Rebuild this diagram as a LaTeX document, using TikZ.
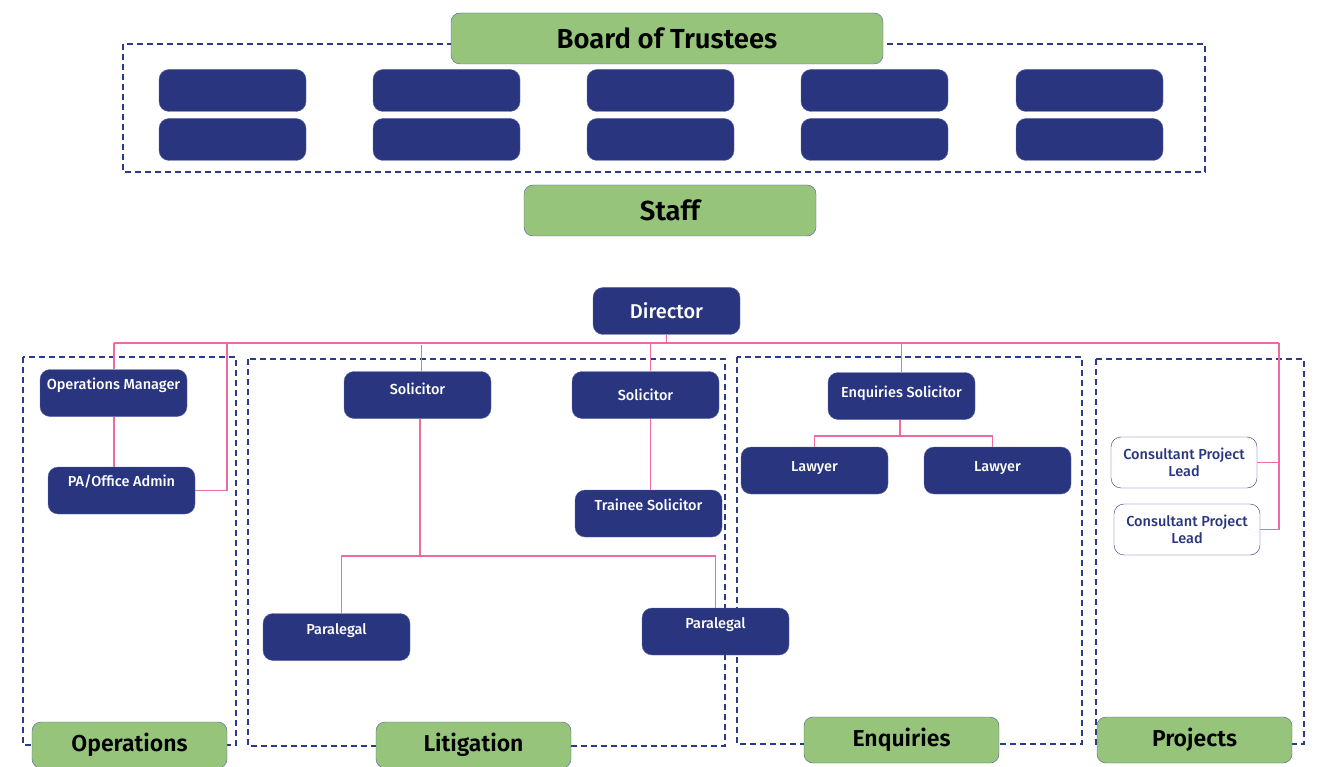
\documentclass[tikz,border=0pt]{standalone}
\usepackage{fontspec}
\setmainfont{Fira Sans Medium}[BoldFont=Fira Sans SemiBold]
\usetikzlibrary{positioning}

\definecolor{navy}{HTML}{29367F}
\definecolor{navyedge}{HTML}{5A66A0}
\definecolor{leaf}{HTML}{95C47A}
\definecolor{rose}{HTML}{EE6AA2}
\definecolor{dashblue}{HTML}{2B3A8A}

\tikzset{
  staffbox/.style={draw=navyedge,fill=navy,rounded corners=10pt,text=white,
    minimum width=147pt,minimum height=47pt,inner sep=2pt,align=center,
    font=\fontsize{14.5}{16}\selectfont},
  lift/.style={text height=10pt,text depth=#1},
  leadbox/.style={draw=navy,fill=white,rounded corners=10pt,text=navy,
    minimum width=146pt,minimum height=51pt,inner sep=2pt,align=center,
    font=\fontsize{14.5}{17.5}\selectfont},
  titlebox/.style={draw=navy!80,fill=leaf,rounded corners=9pt,
    minimum width=195pt,minimum height=46pt,inner sep=2pt,
    font=\bfseries\fontsize{23}{25}\selectfont},
  unitframe/.style={draw=dashblue,line width=2.1pt,dash pattern=on 6pt off 4pt},
  orgline/.style={draw=rose,line width=1.2pt}
}

\begin{document}
\begin{tikzpicture}[x=1pt,y=-1pt]
\useasboundingbox (0,0) rectangle (1320,767);

% trustees
\draw[unitframe] (123,44) rectangle (1205,172);
\foreach \cx [count=\i] in {232.5,446.5,660.5,874.5,1089.5}{
  \node[staffbox,minimum height=42pt] (trustee-\i-a) at (\cx,90.5) {};
  \node[staffbox,minimum height=42pt] (trustee-\i-b) at (\cx,139.5) {};
}
\node[titlebox,minimum width=432pt,minimum height=51pt,font=\bfseries\fontsize{27.5}{29}\selectfont] (board) at (667,38.5) {Board of Trustees};
\node[titlebox,minimum width=292pt,minimum height=51pt,font=\bfseries\fontsize{27.5}{29}\selectfont] (staff) at (670,210.5) {Staff};

% teams
\draw[unitframe] (23,357) rectangle (236,745);
\draw[unitframe] (248,359) rectangle (725,746);
\draw[unitframe] (737,357) rectangle (1082,744);
\draw[unitframe] (1096,359) rectangle (1304,744);

\node[staffbox,font=\fontsize{20}{22}\selectfont] (director) at (666.5,311) {Director};

% operations
\node[staffbox,lift=17pt] (opsmgr) at (113.5,393) {Operations Manager};
\node[staffbox,lift=18pt] (paadmin) at (121.5,490.5) {PA/Office Admin};

% litigation
\node[staffbox,lift=11pt] (sol1) at (417.5,395) {Solicitor};
\node[staffbox] (sol2) at (645.5,395) {Solicitor};
\node[staffbox,lift=16pt] (trainee) at (648.5,513.5) {Trainee Solicitor};
\node[staffbox,lift=15pt] (para1) at (336.5,637) {Paralegal};
\node[staffbox,lift=16pt] (para2) at (715.5,631.5) {Paralegal};

% enquiries
\node[staffbox,lift=7pt] (enqsol) at (901.5,396) {Enquiries Solicitor};
\node[staffbox,lift=8pt] (law1) at (814.5,470.5) {Lawyer};
\node[staffbox,lift=8pt] (law2) at (997.5,470.5) {Lawyer};

% projects
\node[leadbox] (cpl1) at (1184,462.5) {Consultant Project\\Lead};
\node[leadbox] (cpl2) at (1187,529.5) {Consultant Project\\Lead};

% reporting lines
\coordinate (busL) at (114,343);
\coordinate (busR) at (1279,343);
\coordinate (opsdrop) at (227,343);
\coordinate (litsplit) at (420,556);
\coordinate (enqsplit) at (900,436);
\draw[orgline] (director.south) -- (director.south |- busL);
\draw[orgline] (busL) -- (busR);
\draw[orgline] (busL) -- (busL |- opsmgr.north);
\draw[orgline] (opsdrop) |- (paadmin.east);
\draw[orgline] (opsmgr.south -| busL) -- (paadmin.north -| busL);
\draw[orgline] ([xshift=4pt]sol1.north |- 0,345) -- ([xshift=4pt]sol1.north);
\draw[orgline] ([xshift=5pt]sol2.north |- busL) -- ([xshift=5pt]sol2.north);
\draw[orgline] ([xshift=5pt]sol2.south) -- ([xshift=2pt]trainee.north);
\draw[orgline] (sol1.south -| litsplit) -- (litsplit);
\draw[orgline] ([xshift=5pt]para1.north) |- (litsplit) -| (para2.north);
\draw[orgline] (enqsol.north |- busL) -- (enqsol.north);
\draw[orgline] (enqsol.south -| enqsplit) -- (enqsplit);
\draw[orgline] (law1.north) |- (enqsplit) -| ([xshift=-5pt]law2.north);
\draw[orgline] (busR) |- (cpl2.east);
\draw[orgline] (cpl1.east) -- (cpl1.east -| busR);

% team names
\node[titlebox] (opsname) at (129.5,745) {Operations};
\node[titlebox] (litname) at (473.5,745) {Litigation};
\node[titlebox] (enqname) at (901.5,740) {Enquiries};
\node[titlebox] (projname) at (1194.5,740) {Projects};
\end{tikzpicture}
\end{document}
